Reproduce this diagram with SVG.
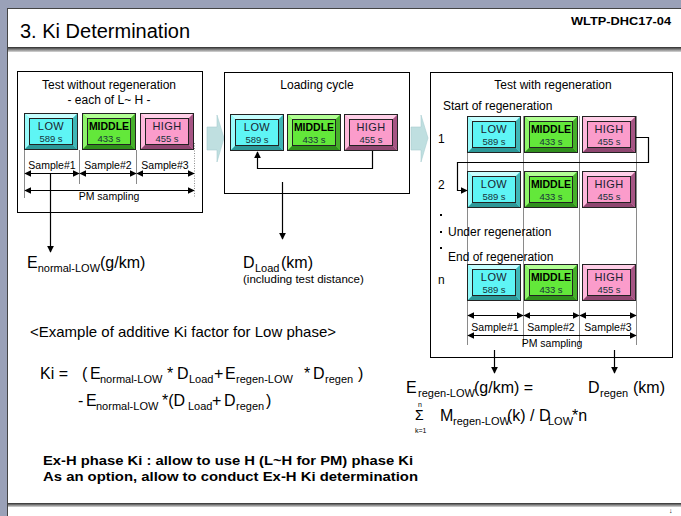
<svg xmlns="http://www.w3.org/2000/svg" xmlns:xlink="http://www.w3.org/1999/xlink" width="681" height="516" viewBox="0 0 681 516">
  <style>
    text { font-family: "Liberation Sans", Arial, sans-serif; fill: #000; }
    .frame { fill: none; stroke: #000; stroke-width: 1; }
    .hd { font-size: 12px; text-anchor: middle; }
    .lbl { font-size: 12px; }
    .smp { font-size: 10.5px; text-anchor: middle; }
    .bt { font-size: 11px; text-anchor: middle; letter-spacing: 0.4px; fill: #1a2230; }
    .btb { font-size: 10.5px; text-anchor: middle; font-weight: bold; fill: #000; }
    .bs { font-size: 9.5px; text-anchor: middle; fill: #17333a; }
    .eq { font-size: 16px; }
    .sub { font-size: 11px; }
    .note { font-size: 13px; font-weight: bold; }
    .guide { stroke: #8a8a8a; stroke-width: 1; fill: none; }
    .wire { stroke: #000; stroke-width: 1.2; fill: none; }
    .tip { marker-end: url(#ah); }
    .dbl { stroke: #000; stroke-width: 1.2; fill: none; marker-start: url(#ah); marker-end: url(#ah); }
    .flow { fill: #bfdfe0; stroke: #a9cfd2; stroke-width: 0.6; }
  </style>
  <defs>
    <marker id="ah" viewBox="0 0 10 10" refX="9" refY="5" markerUnits="userSpaceOnUse" markerWidth="7" markerHeight="7" orient="auto-start-reverse">
      <path d="M0,0 L10,5 L0,10 z" fill="#000"/>
    </marker>
    <linearGradient id="rule" x1="0" y1="0" x2="0" y2="1">
      <stop offset="0" stop-color="#2c2c2c"/>
      <stop offset="1" stop-color="#d8d8d8"/>
    </linearGradient>
    <!-- bevelled phase buttons -->
    <symbol id="blk-low" viewBox="0 0 54 37">
      <rect x="0" y="0" width="54" height="37" fill="#5ef5f5"/>
      <polygon points="0,0 54,0 49,5 5,5" fill="#c6ffff"/>
      <polygon points="0,0 5,5 5,32 0,37" fill="#98fbfb"/>
      <polygon points="0,37 5,32 49,32 54,37" fill="#2c9898"/>
      <polygon points="54,0 54,37 49,32 49,5" fill="#3fb6b6"/>
      <rect x="0.5" y="0.5" width="53" height="36" fill="none" stroke="#222"/>
      <rect x="5.5" y="5.5" width="43" height="26" fill="#5ef5f5" stroke="#222"/>
      <text x="27" y="17" class="bt">LOW</text>
      <text x="27" y="28.5" class="bs">589 s</text>
    </symbol>
    <symbol id="blk-mid" viewBox="0 0 54 37">
      <rect x="0" y="0" width="54" height="37" fill="#63e83a"/>
      <polygon points="0,0 54,0 49,5 5,5" fill="#b2ff94"/>
      <polygon points="0,0 5,5 5,32 0,37" fill="#8ef56a"/>
      <polygon points="0,37 5,32 49,32 54,37" fill="#2f8f1c"/>
      <polygon points="54,0 54,37 49,32 49,5" fill="#46b02a"/>
      <rect x="0.5" y="0.5" width="53" height="36" fill="none" stroke="#222"/>
      <rect x="5.5" y="5.5" width="43" height="26" fill="#63e83a" stroke="#222"/>
      <text x="27" y="17" class="btb">MIDDLE</text>
      <text x="27" y="28.5" class="bs">433 s</text>
    </symbol>
    <symbol id="blk-high" viewBox="0 0 54 37">
      <rect x="0" y="0" width="54" height="37" fill="#fb9ccb"/>
      <polygon points="0,0 54,0 49,5 5,5" fill="#ffd0e8"/>
      <polygon points="0,0 5,5 5,32 0,37" fill="#ffb8dc"/>
      <polygon points="0,37 5,32 49,32 54,37" fill="#8f4670"/>
      <polygon points="54,0 54,37 49,32 49,5" fill="#a65584"/>
      <rect x="0.5" y="0.5" width="53" height="36" fill="none" stroke="#222"/>
      <rect x="5.5" y="5.5" width="43" height="26" fill="#fb9ccb" stroke="#222"/>
      <text x="27" y="17" class="bt">HIGH</text>
      <text x="27" y="28.5" class="bs">455 s</text>
    </symbol>
  </defs>

  <!-- slide frame -->
  <rect x="0" y="0" width="681" height="516" fill="#9aa1b8"/>
  <rect x="7" y="8" width="674" height="508" fill="#fff"/>
  <line x1="7.5" y1="8" x2="7.5" y2="516" stroke="#444"/>
  <line x1="7" y1="8.5" x2="681" y2="8.5" stroke="#444"/>
  <rect x="8" y="47" width="673" height="5" fill="url(#rule)"/>
  <rect x="8" y="503" width="673" height="4" fill="url(#rule)"/>
  <text x="20" y="38" style="font-size:20px">3. Ki Determination</text>
  <text x="571" y="25" style="font-size:10.5px;font-weight:bold" textLength="100" lengthAdjust="spacingAndGlyphs">WLTP-DHC17-04</text>
  <text x="669" y="513" style="font-size:7px">↓</text>

  <!-- flow arrows between stages -->
  <polygon class="flow" points="207,127 217,127 217,115 224,138 217,162 217,150 207,150"/>
  <polygon class="flow" points="411,127 421,127 421,115 428,138 421,162 421,150 411,150"/>

  <!-- stage 1: test without regeneration -->
  <g id="stage-normal">
    <rect class="frame" x="17.5" y="71.5" width="185" height="141"/>
    <text class="hd" x="109" y="89">Test without regeneration</text>
    <text class="hd" x="109" y="104">- each of L~ H -</text>
    <line class="guide" x1="24.5" y1="150" x2="24.5" y2="198"/>
    <line class="guide" x1="79.5" y1="150" x2="79.5" y2="184"/>
    <line class="guide" x1="136.5" y1="150" x2="136.5" y2="184"/>
    <line class="guide" x1="194.5" y1="143" x2="194.5" y2="198" stroke-dasharray="1 1.5"/>
    <g id="n1-low"><use href="#blk-low" x="24" y="113" width="54" height="37"/></g>
    <g id="n1-mid"><use href="#blk-mid" x="82" y="113" width="54" height="37"/></g>
    <g id="n1-high"><use href="#blk-high" x="140" y="113" width="54" height="37"/></g>
    <text class="smp" x="52" y="169">Sample#1</text>
    <text class="smp" x="108" y="169">Sample#2</text>
    <text class="smp" x="165" y="169">Sample#3</text>
    <text class="smp" x="109" y="200">PM sampling</text>
  </g>

  <!-- stage 2: loading cycle -->
  <g id="stage-load">
    <rect class="frame" x="224.5" y="72.5" width="185" height="121"/>
    <text class="hd" x="317" y="89">Loading cycle</text>
    <g id="n2-low"><use href="#blk-low" x="230" y="114" width="54" height="37"/></g>
    <g id="n2-mid"><use href="#blk-mid" x="287" y="114" width="54" height="37"/></g>
    <g id="n2-high"><use href="#blk-high" x="344" y="114" width="54" height="37"/></g>
  </g>

  <!-- stage 3: test with regeneration -->
  <g id="stage-regen">
    <rect class="frame" x="430.5" y="72.5" width="242" height="285"/>
    <text class="hd" x="553" y="89">Test with regeneration</text>
    <text class="lbl" x="443" y="110">Start of regeneration</text>
    <line class="guide" x1="467.5" y1="116" x2="467.5" y2="345"/>
    <line class="guide" x1="523.5" y1="116" x2="523.5" y2="345"/>
    <line class="guide" x1="579.5" y1="116" x2="579.5" y2="345"/>
    <line class="guide" x1="636.5" y1="116" x2="636.5" y2="345"/>
    <text class="lbl" x="438" y="143">1</text>
    <g id="n3-low-1"><use href="#blk-low" x="467" y="116" width="54" height="37"/></g>
    <g id="n3-mid-1"><use href="#blk-mid" x="524" y="116" width="54" height="37"/></g>
    <g id="n3-high-1"><use href="#blk-high" x="582" y="116" width="54" height="37"/></g>
    <text class="lbl" x="438" y="189">2</text>
    <g id="n3-low-2"><use href="#blk-low" x="467" y="171" width="54" height="37"/></g>
    <g id="n3-mid-2"><use href="#blk-mid" x="524" y="171" width="54" height="37"/></g>
    <g id="n3-high-2"><use href="#blk-high" x="582" y="171" width="54" height="37"/></g>
    <rect x="440" y="214" width="2" height="2" fill="#000"/>
    <rect x="440" y="231" width="2" height="2" fill="#000"/>
    <rect x="440" y="247" width="2" height="2" fill="#000"/>
    <text class="lbl" x="448" y="236">Under regeneration</text>
    <text class="lbl" x="448" y="261">End of regeneration</text>
    <text class="lbl" x="438" y="284">n</text>
    <g id="n3-low-n"><use href="#blk-low" x="467" y="264" width="54" height="37"/></g>
    <g id="n3-mid-n"><use href="#blk-mid" x="524" y="264" width="54" height="37"/></g>
    <g id="n3-high-n"><use href="#blk-high" x="582" y="264" width="54" height="37"/></g>
    <text class="smp" x="495" y="331">Sample#1</text>
    <text class="smp" x="551" y="331">Sample#2</text>
    <text class="smp" x="608" y="331">Sample#3</text>
    <text class="smp" x="552" y="347">PM sampling</text>
  </g>

  <!-- connectors -->
  <g id="connectors">
    <line class="dbl" x1="25" y1="173.5" x2="79" y2="173.5"/>
    <line class="dbl" x1="80" y1="173.5" x2="136" y2="173.5"/>
    <line class="dbl" x1="137" y1="173.5" x2="194" y2="173.5"/>
    <line class="dbl" x1="25" y1="190.5" x2="194" y2="190.5"/>
    <path class="wire tip" d="M50.5,174 V252"/>
    <path class="wire tip" d="M372.5,151 V168.5 H257.5 V152"/>
    <path class="wire tip" d="M282.5,182 V239"/>
    <path class="wire tip" d="M636,137.5 H648.5 V162.5 H457.5 V190.5 H467"/>
    <line class="dbl" x1="468" y1="315.5" x2="523" y2="315.5"/>
    <line class="dbl" x1="524" y1="315.5" x2="579" y2="315.5"/>
    <line class="dbl" x1="580" y1="315.5" x2="636" y2="315.5"/>
    <line class="dbl" x1="468" y1="335.5" x2="636" y2="335.5"/>
    <path class="wire tip" d="M494.5,350 V373"/>
    <path class="wire tip" d="M614.5,350 V373"/>
  </g>

  <!-- result quantities -->
  <g id="q-normal">
    <text class="eq" x="27" y="268">E<tspan class="sub" y="272">normal-LOW</tspan><tspan y="268">(g/km)</tspan></text>
  </g>
  <g id="q-load">
    <text class="eq" x="243" y="268">D<tspan class="sub" x="255" y="272">Load</tspan><tspan x="281" y="268">(km)</tspan></text>
    <text x="243" y="283" style="font-size:11.5px">(including test distance)</text>
  </g>
  <g id="q-regen">
    <text class="eq" x="406" y="393">E<tspan class="sub" x="418" y="397">regen-LOW</tspan><tspan x="474" y="393">(g/km) =</tspan></text>
    <text class="eq" x="588" y="393">D<tspan class="sub" x="600" y="397">regen</tspan><tspan x="633" y="393">(km)</tspan></text>
    <text x="415" y="420" style="font-size:14px">Σ</text>
    <text x="418" y="407" style="font-size:7px">n</text>
    <text x="415" y="433" style="font-size:7px">k=1</text>
    <text class="eq" x="440" y="421">M<tspan class="sub" x="453" y="425">regen-LOW</tspan><tspan x="507" y="421">(k) / D</tspan><tspan class="sub" x="548" y="425">LOW</tspan><tspan x="572" y="421">*n</tspan></text>
  </g>

  <!-- worked example -->
  <g id="example">
    <text x="30" y="337" style="font-size:15px">&lt;Example of additive Ki factor for Low phase&gt;</text>
    <text class="eq" x="40" y="379">Ki =<tspan x="82">(</tspan><tspan x="90">E</tspan><tspan class="sub" x="100" y="383">normal-LOW</tspan><tspan x="167" y="379">*</tspan><tspan x="177">D</tspan><tspan class="sub" x="189" y="383">Load</tspan><tspan x="214" y="379">+</tspan><tspan x="225">E</tspan><tspan class="sub" x="236" y="383">regen-LOW</tspan><tspan x="304" y="379">*</tspan><tspan x="313">D</tspan><tspan class="sub" x="325" y="383">regen</tspan><tspan x="358" y="379">)</tspan></text>
    <text class="eq" x="78" y="406">-<tspan x="86">E</tspan><tspan class="sub" x="96" y="410">normal-LOW</tspan><tspan x="162" y="406">*(D</tspan><tspan class="sub" x="188" y="410">Load</tspan><tspan x="212" y="406">+</tspan><tspan x="224">D</tspan><tspan class="sub" x="236" y="410">regen</tspan><tspan x="266" y="406">)</tspan></text>
  </g>

  <g id="notes">
    <text class="note" x="43" y="465" textLength="370" lengthAdjust="spacingAndGlyphs">Ex-H phase Ki : allow to use H (L~H for PM) phase Ki</text>
    <text class="note" x="43" y="481" textLength="375" lengthAdjust="spacingAndGlyphs">As an option, allow to conduct Ex-H Ki determination</text>
  </g>
</svg>
